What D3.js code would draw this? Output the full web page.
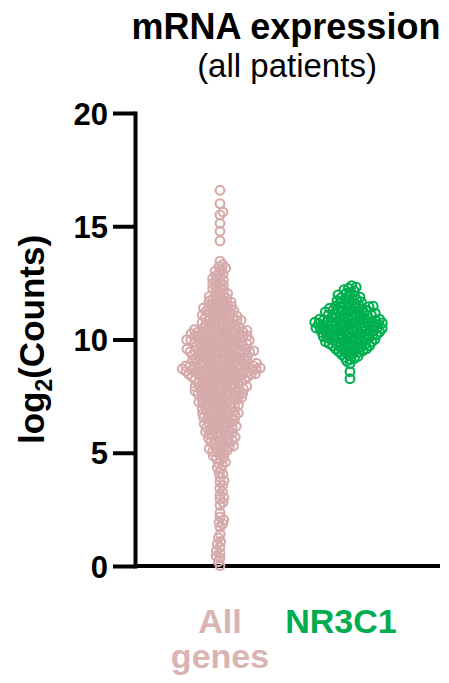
<!DOCTYPE html>
<html>
<head>
<meta charset="utf-8">
<script src="https://cdn.jsdelivr.net/npm/d3@7"></script>
<style>
  html, body { margin: 0; padding: 0; background: #fff; }
  svg { display: block; font-family: "Liberation Sans", Arial, Helvetica, sans-serif; }
</style>
</head>
<body>
<svg id="chart" width="449" height="683"></svg>
<script>
// Groups shown on the x axis
const categories = ["All genes", "NR3C1"];

// log2(counts) per gene, all patients
const allGenes = [
  0.02, 0.19, 0.36, 0.44, 0.57, 0.66, 0.83, 0.97,
  1.08, 1.24, 1.41, 1.72, 1.86, 1.93, 2.04, 2.17, 2.36,
  2.68, 2.81, 2.95, 3.02, 3.14, 3.29, 3.43, 3.56, 3.71, 3.77, 3.92,
  4.05, 4.12, 4.28, 4.34, 4.46, 4.53, 4.58, 4.69, 4.74, 4.8, 4.86, 4.91, 4.99,
  5.03, 5.06, 5.1, 5.13, 5.17, 5.21, 5.24, 5.26, 5.3, 5.34, 5.38, 5.42, 5.45, 5.48,
  5.52, 5.55, 5.57, 5.6, 5.62, 5.64, 5.69, 5.72, 5.73, 5.77, 5.79, 5.83, 5.84, 5.88, 5.9, 5.92, 5.96,
  6.01, 6.03, 6.05, 6.08, 6.1, 6.12, 6.16, 6.17, 6.21, 6.23, 6.25, 6.27, 6.3, 6.32, 6.34, 6.36, 6.4, 6.43, 6.46, 6.48,
  6.51, 6.52, 6.55, 6.57, 6.59, 6.61, 6.63, 6.64, 6.68, 6.7, 6.71, 6.73, 6.75, 6.78, 6.8, 6.82, 6.83, 6.85, 6.88, 6.91, 6.92, 6.94, 6.96, 6.99,
  7.01, 7.03, 7.04, 7.08, 7.1, 7.11, 7.13, 7.16, 7.17, 7.19, 7.21, 7.23, 7.24, 7.26, 7.29, 7.32, 7.34, 7.35, 7.36, 7.37, 7.39, 7.41, 7.43, 7.45, 7.47, 7.5,
  7.52, 7.53, 7.55, 7.56, 7.57, 7.59, 7.6, 7.62, 7.64, 7.66, 7.67, 7.69, 7.7, 7.71, 7.73, 7.74, 7.76, 7.78, 7.79, 7.81, 7.83, 7.84, 7.85, 7.87, 7.89, 7.9, 7.91, 7.92, 7.93, 7.95, 7.97,
  8.01, 8.02, 8.03, 8.05, 8.06, 8.08, 8.09, 8.11, 8.13, 8.14, 8.16, 8.18, 8.19, 8.21, 8.22, 8.23, 8.24, 8.26, 8.28, 8.29, 8.31, 8.32, 8.34, 8.35, 8.36, 8.37,
  8.39, 8.4, 8.42, 8.43, 8.44, 8.45, 8.46, 8.47, 8.48, 8.49,
  8.51, 8.52, 8.53, 8.54, 8.55, 8.56, 8.57, 8.58, 8.59, 8.6, 8.61, 8.62, 8.63, 8.64, 8.65, 8.66, 8.67, 8.68, 8.69, 8.7, 8.71, 8.72, 8.73, 8.74, 8.75, 8.76,
  8.77, 8.78, 8.79, 8.8, 8.81, 8.82, 8.83, 8.84, 8.85, 8.86, 8.88, 8.89, 8.9, 8.91, 8.93, 8.94, 8.95, 8.97, 8.98, 8.99,
  9.0, 9.01, 9.03, 9.04, 9.06, 9.07, 9.08, 9.1, 9.11, 9.12, 9.14, 9.15, 9.17, 9.18, 9.19, 9.2, 9.22, 9.23, 9.25, 9.26,
  9.27, 9.29, 9.3, 9.31, 9.33, 9.34, 9.35, 9.37, 9.38, 9.39, 9.41, 9.42, 9.43, 9.44, 9.45, 9.46, 9.47, 9.48, 9.49, 9.5,
  9.51, 9.52, 9.54, 9.55, 9.57, 9.58, 9.6, 9.61, 9.62, 9.64, 9.65, 9.67, 9.68, 9.7, 9.71, 9.72, 9.74, 9.75, 9.77, 9.78,
  9.79, 9.81, 9.82, 9.84, 9.85, 9.86, 9.88, 9.89, 9.9, 9.91, 9.93, 9.94, 9.95, 9.96, 9.97, 9.98, 9.99,
  10.02, 10.03, 10.05, 10.06, 10.08, 10.09, 10.1, 10.12, 10.13, 10.15, 10.16, 10.17, 10.19, 10.2, 10.21, 10.22, 10.24, 10.25, 10.26, 10.28,
  10.29, 10.3, 10.32, 10.33, 10.35, 10.36, 10.37, 10.39, 10.4, 10.42, 10.43, 10.44, 10.46, 10.48, 10.49,
  10.51, 10.53, 10.56, 10.58, 10.59, 10.63, 10.64, 10.66, 10.68, 10.71, 10.73, 10.74, 10.78, 10.8, 10.81, 10.83,
  10.85, 10.87, 10.89, 10.91, 10.93, 10.95, 10.97, 10.99,
  11.02, 11.04, 11.07, 11.09, 11.12, 11.14, 11.17, 11.19, 11.22, 11.24, 11.27, 11.29, 11.31, 11.34, 11.36, 11.39, 11.41, 11.44, 11.46, 11.49,
  11.52, 11.55, 11.59, 11.62, 11.65, 11.69, 11.72, 11.75, 11.79, 11.82, 11.86, 11.89, 11.93, 11.97,
  12.03, 12.08, 12.14, 12.19, 12.25, 12.3, 12.36, 12.41, 12.47,
  12.52, 12.58, 12.63, 12.69, 12.75, 12.81, 12.88, 12.94,
  13.02, 13.08, 13.15, 13.22, 13.31, 13.46,
  14.35, 14.78, 15.13, 15.5, 15.63, 16.0, 16.59
];

// log2(counts) of NR3C1, one value per patient
const nr3c1 = [
  8.27, 8.58, 8.93,
  9.04, 9.12, 9.17, 9.21, 9.26, 9.3, 9.33, 9.38, 9.41, 9.44, 9.46, 9.49,
  9.51, 9.53, 9.56, 9.58, 9.6, 9.61, 9.64, 9.66, 9.68, 9.7, 9.72, 9.73, 9.75, 9.77, 9.79, 9.8, 9.82, 9.84, 9.85, 9.87, 9.89, 9.9, 9.92, 9.94, 9.95, 9.97, 9.99,
  10.0, 10.01, 10.03, 10.05, 10.07, 10.08, 10.1, 10.11, 10.12, 10.13, 10.15, 10.16, 10.18, 10.19, 10.2, 10.21, 10.23, 10.24, 10.25,
  10.27, 10.28, 10.29, 10.3, 10.31, 10.33, 10.34, 10.35, 10.36, 10.38, 10.39, 10.4, 10.42, 10.43, 10.44, 10.45, 10.46, 10.47, 10.48, 10.49, 10.5,
  10.51, 10.52, 10.53, 10.54, 10.56, 10.57, 10.59, 10.6, 10.61, 10.62, 10.63, 10.64, 10.65, 10.67, 10.68, 10.69, 10.7,
  10.71, 10.72, 10.73, 10.74, 10.75, 10.76, 10.78, 10.79, 10.8, 10.81, 10.82, 10.83, 10.84, 10.85, 10.86, 10.87, 10.89, 10.9,
  10.92, 10.94, 10.95, 10.97, 10.99,
  11.01, 11.03, 11.04, 11.06, 11.07, 11.08, 11.09, 11.11, 11.13, 11.14, 11.16, 11.18, 11.2, 11.21, 11.22, 11.24, 11.26, 11.28, 11.3, 11.32, 11.34, 11.36,
  11.38, 11.4, 11.42, 11.44, 11.45, 11.47, 11.48, 11.5,
  11.53, 11.57, 11.6, 11.63, 11.66, 11.69, 11.72, 11.75, 11.78, 11.81, 11.84, 11.87, 11.9, 11.93, 11.97,
  12.04, 12.09, 12.15, 12.2, 12.26, 12.31, 12.38
];

const seriesValues = [allGenes, nr3c1];
const seriesColors = ["#d6aaaa", "#00b04f"];
const labelColors = ["#dab3b3", "#00ad4e"];
const yTicks = [0, 5, 10, 15, 20];

const svg = d3.select("#chart");

// Layout
const axisX = 135, axisRight = 440;
const yTop = 113, yBottom = 566;

const y = d3.scaleLinear().domain([0, 20]).range([yBottom, yTop]);
const x = d3.scalePoint().domain(categories).range([220, 350]);

// Title
svg.append("text")
  .attr("x", 286).attr("y", 39)
  .attr("text-anchor", "middle")
  .attr("font-weight", "bold").attr("font-size", 36)
  .text("mRNA expression");
svg.append("text")
  .attr("x", 287).attr("y", 77)
  .attr("text-anchor", "middle")
  .attr("font-size", 33)
  .text("(all patients)");

// Y axis
const yAxis = d3.axisLeft(y).tickValues(yTicks).tickSize(22).tickSizeOuter(0).tickPadding(5);
const gy = svg.append("g").attr("transform", `translate(${axisX},0)`).call(yAxis);
gy.select(".domain").attr("stroke", "#000").attr("stroke-width", 4).attr("stroke-linecap", "square");
gy.selectAll(".tick line").attr("stroke", "#000").attr("stroke-width", 4);
gy.selectAll(".tick text")
  .attr("fill", "#000")
  .attr("font-family", "Liberation Sans, Arial, sans-serif")
  .attr("font-weight", "bold").attr("font-size", 31)
  .attr("dy", "0.36em");

// X baseline
svg.append("line")
  .attr("x1", axisX).attr("x2", axisRight)
  .attr("y1", y(0)).attr("y2", y(0))
  .attr("stroke", "#000").attr("stroke-width", 4);

// Y axis title
const yl = svg.append("text")
  .attr("transform", `translate(44,${(yTop + yBottom) / 2}) rotate(-90)`)
  .attr("text-anchor", "middle")
  .attr("font-weight", "bold").attr("font-size", 35);
yl.append("tspan").text("log");
yl.append("tspan").attr("font-size", 23).attr("dy", 8).text("2");
yl.append("tspan").attr("dy", -8).text("(Counts)");

// Beeswarm placement: each point takes the free horizontal offset nearest the centre
function swarm(values, d) {
  const pts = values.map(v => ({ v, py: y(v), dx: 0 })).sort((a, b) => a.v - b.v);
  const placed = [];
  pts.forEach((p, i) => {
    const near = placed.filter(q => Math.abs(q.py - p.py) < d);
    const cands = [0];
    near.forEach(q => {
      const h = Math.sqrt(d * d - (q.py - p.py) ** 2);
      cands.push(q.dx - h, q.dx + h);
    });
    const sgn = i % 2 ? 1 : -1;
    cands.sort((a, b) => Math.abs(a) - Math.abs(b) || sgn * (a - b));
    for (const c of cands) {
      if (near.every(q => (q.dx - c) ** 2 + (q.py - p.py) ** 2 >= d * d - 1e-6)) { p.dx = c; break; }
    }
    placed.push(p);
  });
  return pts;
}

const collide = 4.2;
categories.forEach((cat, i) => {
  const pts = swarm(seriesValues[i], collide);
  svg.append("g")
    .selectAll("circle")
    .data(pts)
    .join("circle")
    .attr("cx", p => x(cat) + p.dx)
    .attr("cy", p => p.py)
    .attr("r", 4.4)
    .attr("fill", "none")
    .attr("stroke", seriesColors[i])
    .attr("stroke-width", 2.1);
});

// Category labels
const labelNudge = { "NR3C1": -9 };
categories.forEach((cat, i) => {
  const lx = x(cat) + (labelNudge[cat] || 0);
  const t = svg.append("text")
    .attr("x", lx)
    .attr("y", 633)
    .attr("text-anchor", "middle")
    .attr("font-weight", "bold").attr("font-size", 34)
    .attr("fill", labelColors[i]);
  cat.split(" ").forEach((w, k) => {
    t.append("tspan").attr("x", lx).attr("dy", k ? 35 : 0).text(w);
  });
});
</script>
</body>
</html>
